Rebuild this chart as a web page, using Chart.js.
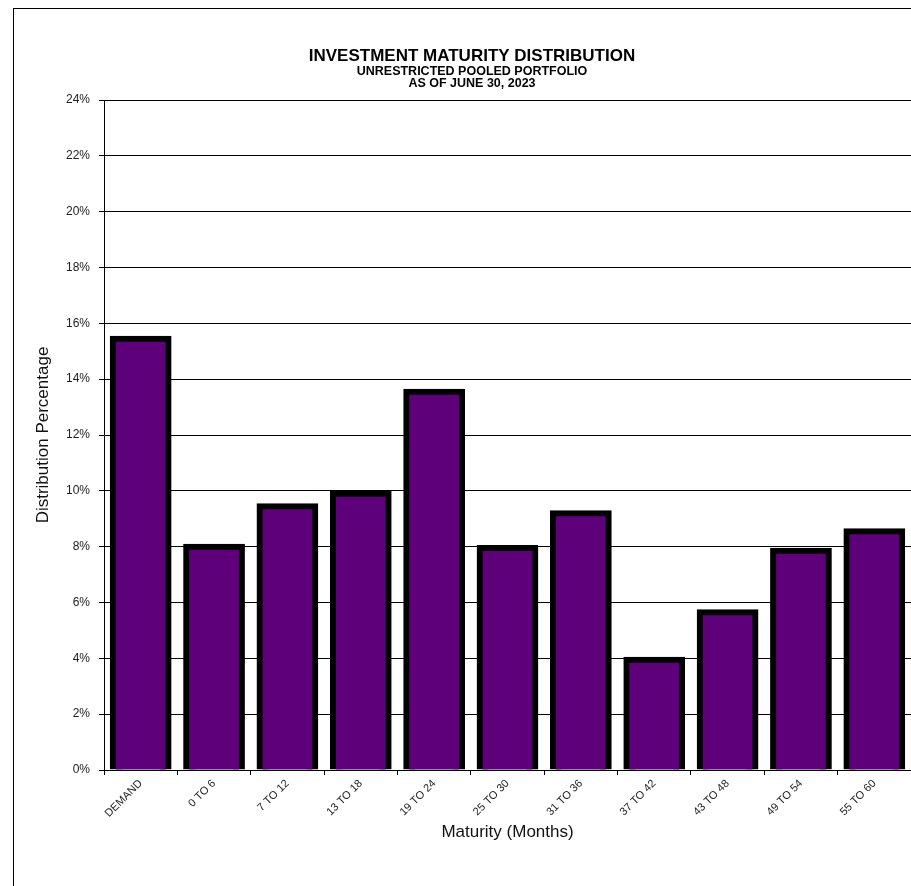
<!DOCTYPE html>
<html>
<head>
<meta charset="utf-8">
<script src="https://cdn.jsdelivr.net/npm/chart.js@4.4.0/dist/chart.umd.min.js"></script>
<style>
  html, body { margin: 0; padding: 0; background: #fff; overflow: hidden; }
  #frame { position: absolute; left: 13px; top: 8px; width: 1000px; height: 1000px;
           border-left: 1px solid #000; border-top: 1px solid #000; box-sizing: border-box; }
  #wrap { position: absolute; left: 0; top: 0; width: 911px; height: 886px; }
</style>
</head>
<body>
<div id="frame"></div>
<div id="wrap"><canvas id="c"></canvas></div>
<script>
const categories = ['DEMAND', '0 TO 6', '7 TO 12', '13 TO 18', '19 TO 24', '25 TO 30',
                    '31 TO 36', '37 TO 42', '43 TO 48', '49 TO 54', '55 TO 60'];
const distributionPct = [15.45, 8.0, 9.45, 9.9, 13.55, 7.95, 9.2, 3.95, 5.65, 7.85, 8.55];
const yTicks = [0, 2, 4, 6, 8, 10, 12, 14, 16, 18, 20, 22, 24];
const titleText = 'INVESTMENT MATURITY DISTRIBUTION';
const subtitleLines = ['UNRESTRICTED POOLED PORTFOLIO', 'AS OF JUNE 30, 2023'];
const xTitle = 'Maturity (Months)';
const yTitle = 'Distribution Percentage';

const FONT = "'Liberation Sans', Arial, sans-serif";

new Chart(document.getElementById('c'), {
  type: 'bar',
  data: {
    labels: categories,
    datasets: [{
      data: distributionPct,
      backgroundColor: '#5E0079',
      borderColor: '#000000',
      borderWidth: 6,
      borderSkipped: 'start',
      inflateAmount: 3,
      categoryPercentage: 1.0,
      barPercentage: 0.76,
      clip: { left: false, top: false, right: false, bottom: 0 }
    }]
  },
  options: {
    responsive: true,
    maintainAspectRatio: false,
    animation: false,
    layout: { padding: { left: 33, right: 0, top: 0, bottom: 0 } },
    plugins: {
      legend: { display: false },
      tooltip: { enabled: false },
      title: {
        display: true,
        text: titleText,
        color: '#000',
        font: { family: FONT, size: 17, weight: 'bold', lineHeight: 1 },
        padding: { top: 48, bottom: 1 }
      },
      subtitle: {
        display: true,
        text: subtitleLines,
        color: '#000',
        font: { family: FONT, size: 12.5, weight: 'bold', lineHeight: '12px' },
        padding: { top: 0, bottom: 10 }
      }
    },
    scales: {
      x: {
        offset: true,
        grid: { display: true, drawOnChartArea: false, drawTicks: true, tickLength: 5, color: '#000', offset: true },
        border: { display: true, color: '#000', width: 1 },
        ticks: {
          color: '#222',
          font: { family: FONT, size: 11 },
          minRotation: 45, maxRotation: 45, autoSkip: false, padding: 2
        },
        title: {
          display: true, text: xTitle, color: '#111',
          font: { family: FONT, size: 17 },
          padding: { top: 0, bottom: 43 }
        },
        afterFit(scale) { scale.height = 116; scale.paddingLeft = 0; scale.paddingRight = 0; }
      },
      y: {
        min: 0, max: 24,
        afterBuildTicks(scale) { scale.ticks = yTicks.map(v => ({ value: v })); },
        grid: { color: '#000', lineWidth: 1, drawTicks: true, tickLength: 5 },
        border: { display: true, color: '#000', width: 1 },
        ticks: {
          color: '#222',
          font: { family: FONT, size: 12 },
          padding: 9,
          callback: v => v + '%'
        },
        title: {
          display: true, text: yTitle, color: '#111',
          font: { family: FONT, size: 17 },
          padding: { top: 0, bottom: 0 }
        },
        afterFit(scale) { scale.width = 71; }
      }
    }
  }
});
</script>
</body>
</html>
